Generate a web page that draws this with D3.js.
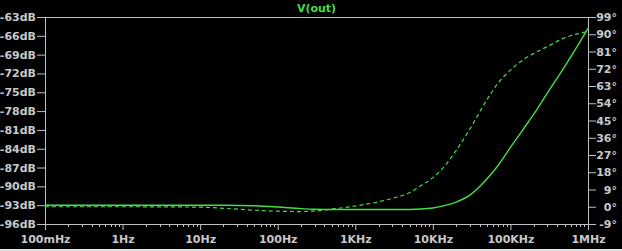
<!DOCTYPE html>
<html>
<head>
<meta charset="utf-8">
<script src="https://cdn.jsdelivr.net/npm/d3@7"></script>
<style>
    html, body { margin: 0; padding: 0; background: #000; }
    svg { display: block; }
    .tick text { font-family: "DejaVu Sans", sans-serif; font-weight: bold; font-size: 11px; fill: #c8c8c8; }
    .tick line { stroke: #c0c0c0; }
</style>
</head>
<body>
<div id="chart"></div>
<script>
// Frequency points (Hz) of the AC sweep
const freqs = [0.1, 1, 10, 20, 50, 100, 200, 300, 500, 1e3, 2e3, 3e3, 5e3, 7e3,
               1e4, 1.5e4, 2e4, 3e4, 5e4, 7e4, 1e5, 1.5e5, 2e5, 3e5, 5e5, 7e5, 1e6];
// V(out) magnitude, dB (solid)
const magDb = [-93.0, -93.0, -93.0, -93.0, -93.1, -93.3, -93.55, -93.65, -93.7, -93.7, -93.7, -93.7, -93.68, -93.62,
               -93.45, -93.0, -92.5, -91.4, -88.8, -86.6, -83.8, -80.7, -78.5, -75.1, -70.9, -68.0, -64.8];
// V(out) phase, degrees (dashed)
const phaseDeg = [0, 0, -0.2, -0.8, -1.8, -2.3, -2.5, -2.2, -1.2, 0.4, 2.6, 4.4, 7.3, 11.0,
                  15.2, 22.4, 29.4, 40.5, 56.0, 64.7, 71.3, 77.0, 80.0, 83.6, 88.1, 90.1, 91.5];

const dbTicks = [-63, -66, -69, -72, -75, -78, -81, -84, -87, -90, -93, -96];
const degTicks = [99, 90, 81, 72, 63, 54, 45, 36, 27, 18, 9, 0, -9];
const freqTicks = [0.1, 1, 10, 100, 1e3, 1e4, 1e5, 1e6];
const freqLabels = ["100mHz", "1Hz", "10Hz", "100Hz", "1KHz", "10KHz", "100KHz", "1MHz"];
const title = "V(out)";

const width = 622;
const height = 251;
const plotLeft = 45, plotRight = 588, plotTop = 17, plotBottom = 224;
const green = "#44dd44";
const grey = "#c0c0c0";

const svg = d3.select("#chart")
              .append("svg")
              .attr("width", width)
              .attr("height", height);

svg.append("rect").attr("width", width).attr("height", height).attr("fill", "#000");
// thin light strip at the very bottom of the screenshot
svg.append("rect").attr("x", 0).attr("y", 249).attr("width", width).attr("height", 2).attr("fill", "#e4e4e4");

const xScale = d3.scaleLog().domain([0.1, 1e6]).range([plotLeft, plotRight]);
const yDb = d3.scaleLinear().domain([-96, -63]).range([plotBottom, plotTop]);
const yDeg = d3.scaleLinear().domain([-9, 99]).range([plotBottom, plotTop]);

// Left axis (dB)
const gl = svg.append("g")
              .attr("transform", `translate(${plotLeft},0)`)
              .call(d3.axisLeft(yDb).tickValues(dbTicks).tickSize(8).tickPadding(1)
                      .tickFormat(d => d + "dB"));
gl.select(".domain").remove();

// Right axis (degrees)
const gr = svg.append("g")
              .attr("transform", `translate(${plotRight},0)`)
              .call(d3.axisRight(yDeg).tickValues(degTicks).tickSize(8)
                      .tickFormat(d => d + "°"));
gr.select(".domain").remove();
gr.selectAll(".tick text").attr("text-anchor", "end").attr("x", 29);

// Bottom axis (frequency)
const gb = svg.append("g")
              .attr("transform", `translate(0,${plotBottom})`)
              .call(d3.axisBottom(xScale).tickValues(freqTicks).tickSize(6).tickPadding(5)
                      .tickFormat((d, i) => freqLabels[i]));
gb.select(".domain").remove();

// minor ticks 2..9 in every decade
const minor = [];
for (let k = 0; k < freqTicks.length - 1; k++) {
    for (let m = 2; m <= 9; m++) minor.push(freqTicks[k] * m);
}
svg.append("g").selectAll("line")
   .data(minor)
   .enter()
   .append("line")
   .attr("x1", d => Math.round(xScale(d)) + 0.5)
   .attr("x2", d => Math.round(xScale(d)) + 0.5)
   .attr("y1", plotBottom)
   .attr("y2", plotBottom + 3)
   .attr("stroke", grey);

// plot frame
svg.append("rect")
   .attr("x", plotLeft + 0.5)
   .attr("y", plotTop + 0.5)
   .attr("width", plotRight - plotLeft)
   .attr("height", plotBottom - plotTop)
   .attr("fill", "none")
   .attr("stroke", grey);

// title
svg.append("text")
   .attr("x", (plotLeft + plotRight) / 2)
   .attr("y", 12)
   .attr("text-anchor", "middle")
   .attr("font-family", "DejaVu Sans, sans-serif")
   .attr("font-weight", "bold")
   .attr("font-size", 11)
   .attr("fill", green)
   .text(title);

// curves
const magLine = d3.line()
                  .x((d, i) => xScale(freqs[i]))
                  .y(d => yDb(d))
                  .curve(d3.curveMonotoneX);
const phaseLine = d3.line()
                    .x((d, i) => xScale(freqs[i]))
                    .y(d => yDeg(d))
                    .curve(d3.curveMonotoneX);

svg.append("path")
   .datum(phaseDeg)
   .attr("d", phaseLine)
   .attr("fill", "none")
   .attr("stroke", green)
   .attr("stroke-width", 1.2)
   .attr("stroke-dasharray", "4,3");

svg.append("path")
   .datum(magDb)
   .attr("d", magLine)
   .attr("fill", "none")
   .attr("stroke", green)
   .attr("stroke-width", 1.4);
</script>
</body>
</html>
